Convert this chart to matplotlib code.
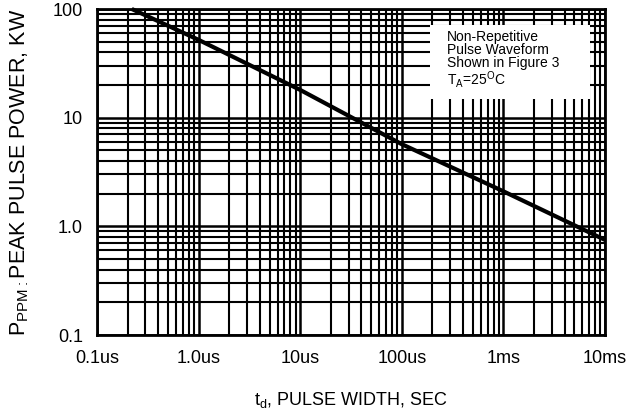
import matplotlib
matplotlib.use("Agg")
import matplotlib.pyplot as plt
from matplotlib.ticker import FixedLocator, LogLocator, NullFormatter
from matplotlib.patches import Rectangle

plt.rcParams['font.family'] = ['Liberation Sans', 'DejaVu Sans']

# Pulse width (seconds) and peak pulse power (kW)
pulse_width_s = [0.22e-6, 1e-6, 10e-6, 100e-6, 1e-3, 10e-3]
peak_power_kw = [100, 52, 18, 5.7, 2.1, 0.75]

x_tick_values = [1e-7, 1e-6, 1e-5, 1e-4, 1e-3, 1e-2]
x_tick_labels = ["0.1us", "1.0us", "10us", "100us", "1ms", "10ms"]
y_tick_values = [0.1, 1, 10, 100]
y_tick_labels = ["0.1", "1.0", "10", "100"]

fig = plt.figure(figsize=(6.26, 4.18), dpi=100)
ax = fig.add_axes([97 / 626, 1 - 335 / 418, 508 / 626, 326 / 418])

ax.set_xscale("log")
ax.set_yscale("log")
ax.set_xlim(1e-7, 1e-2)
ax.set_ylim(0.1, 100)

ax.xaxis.set_major_locator(FixedLocator(x_tick_values))
ax.xaxis.set_minor_locator(LogLocator(base=10, subs=range(2, 10), numticks=20))
ax.xaxis.set_minor_formatter(NullFormatter())
ax.set_xticklabels(x_tick_labels)
ax.yaxis.set_major_locator(FixedLocator(y_tick_values))
ax.yaxis.set_minor_locator(LogLocator(base=10, subs=range(2, 10), numticks=20))
ax.yaxis.set_minor_formatter(NullFormatter())
ax.set_yticklabels(y_tick_labels)

ax.grid(True, which="major", color="black", linewidth=1.8)
ax.grid(True, which="minor", color="black", linewidth=1.5)
ax.tick_params(which="both", length=0, labelsize=13, colors="black")
ax.tick_params(axis="x", pad=11)
ax.tick_params(axis="y", pad=10)
for s in ax.spines.values():
    s.set_linewidth(2)

ax.plot(pulse_width_s, peak_power_kw, color="black", linewidth=3,
        solid_capstyle="butt", zorder=4, clip_on=False)

# Condition note on a white panel
ax.add_patch(Rectangle((0.656, 0.724), 0.314, 0.227, transform=ax.transAxes,
                       facecolor="white", edgecolor="none", zorder=5))
ax.text(0.689, 0.935,
        "Non-Repetitive\nPulse Waveform\nShown in Figure 3\n"
        r"T$_{\mathregular{A}}$=25$^{\mathregular{O}}$C",
        transform=ax.transAxes, fontsize=10, va="top", ha="left",
        linespacing=0.92, zorder=6)

ax.set_xlabel(r"t$_{\mathregular{d}}$, PULSE WIDTH, SEC", fontsize=13, labelpad=16)
ax.set_ylabel(r"P$_{\mathregular{PPM:}}$PEAK PULSE POWER, KW", fontsize=15.5, labelpad=16)

fig.savefig("out.png", dpi=100)
